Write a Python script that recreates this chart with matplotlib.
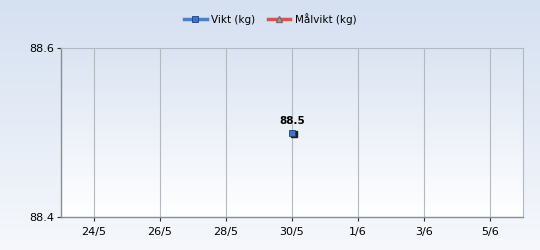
import numpy as np
import matplotlib
matplotlib.use("Agg")
import matplotlib.pyplot as plt
import matplotlib.dates as mdates
from datetime import datetime

# data
dates = [datetime(2012, 5, 30)]
vikt = [88.5]
malvikt_dates = []
malvikt = []
tick_dates = [datetime(2012, 5, 24), datetime(2012, 5, 26), datetime(2012, 5, 28),
              datetime(2012, 5, 30), datetime(2012, 6, 1), datetime(2012, 6, 3),
              datetime(2012, 6, 5)]
tick_labels = ["24/5", "26/5", "28/5", "30/5", "1/6", "3/6", "5/6"]
y_ticks = [88.4, 88.6]

plt.rcParams['font.family'] = ['DejaVu Sans']

fig = plt.figure(figsize=(5.4, 2.5), dpi=100)

# background gradient
bg = fig.add_axes([0, 0, 1, 1])
bg.set_axis_off()
grad = np.linspace(0, 1, 256).reshape(-1, 1)
top = np.array([213, 224, 241]) / 255
bot = np.array([246, 248, 252]) / 255
img = top + (bot - top) * grad[:, :, None]
bg.imshow(img, aspect='auto', extent=[0, 1, 0, 1])

ax = fig.add_axes([61 / 540, 1 - 217 / 250, 462 / 540, 169 / 250])
ax.set_zorder(1)
# plot area gradient
ptop = np.array([219, 228, 242]) / 255
pbot = np.array([255, 255, 255]) / 255
pimg = ptop + (pbot - ptop) * grad[:, :, None]
x0 = mdates.date2num(datetime(2012, 5, 23))
x1 = mdates.date2num(datetime(2012, 6, 6))
ax.imshow(pimg, aspect='auto', extent=[x0, x1, 88.4, 88.6], zorder=0)

for d in tick_dates:
    ax.axvline(mdates.date2num(d), color='#b4b8bf', lw=0.8, zorder=1)

# shadow + marker
xs = mdates.date2num(dates)
ax.plot(xs, vikt, ls='none', marker='s', ms=5, color='#202020',
        transform=ax.transData + matplotlib.transforms.ScaledTranslation(1.5 / 100, -1.5 / 100, fig.dpi_scale_trans),
        zorder=3)
l1, = ax.plot(xs, vikt, color='#4a7fd0', marker='s', ms=5, mfc='#3f74c9', mec='#1f3f80', mew=0.6, lw=2.5, zorder=4,
              label='Vikt (kg)')
l2, = ax.plot(malvikt_dates, malvikt, color='#d9534f', marker='^', ms=5, mfc='#a0a0a0', mec='#707070', lw=2.5,
              label='Målvikt (kg)')
for x, v in zip(xs, vikt):
    ax.annotate(f"{v:.1f}", (x, v), xytext=(0, 5), textcoords='offset points', ha='center', va='bottom',
                fontsize=7.5, fontweight='bold', color='black', zorder=5)

ax.set_xlim(x0, x1)
ax.set_ylim(88.4, 88.6)
ax.set_xticks([mdates.date2num(d) for d in tick_dates])
ax.set_xticklabels(tick_labels)
ax.set_yticks(y_ticks)
ax.set_yticklabels([f"{v:.1f}" for v in y_ticks])
ax.tick_params(axis='both', labelsize=8, length=3, color='#303030', direction='out', pad=4)
ax.tick_params(axis='y', pad=2)
for s in ['top', 'right']:
    ax.spines[s].set_color('#b4b8bf')
    ax.spines[s].set_linewidth(0.8)
for s in ['left', 'bottom']:
    ax.spines[s].set_color('#8a8d92')
    ax.spines[s].set_linewidth(1.0)

fig.legend(handles=[l1, l2], loc='upper center', bbox_to_anchor=(0.5, 0.985), ncol=2, frameon=False,
           fontsize=7.5, handlelength=2.2, columnspacing=1.2, handletextpad=0.4)

fig.savefig("out.png", dpi=100)
